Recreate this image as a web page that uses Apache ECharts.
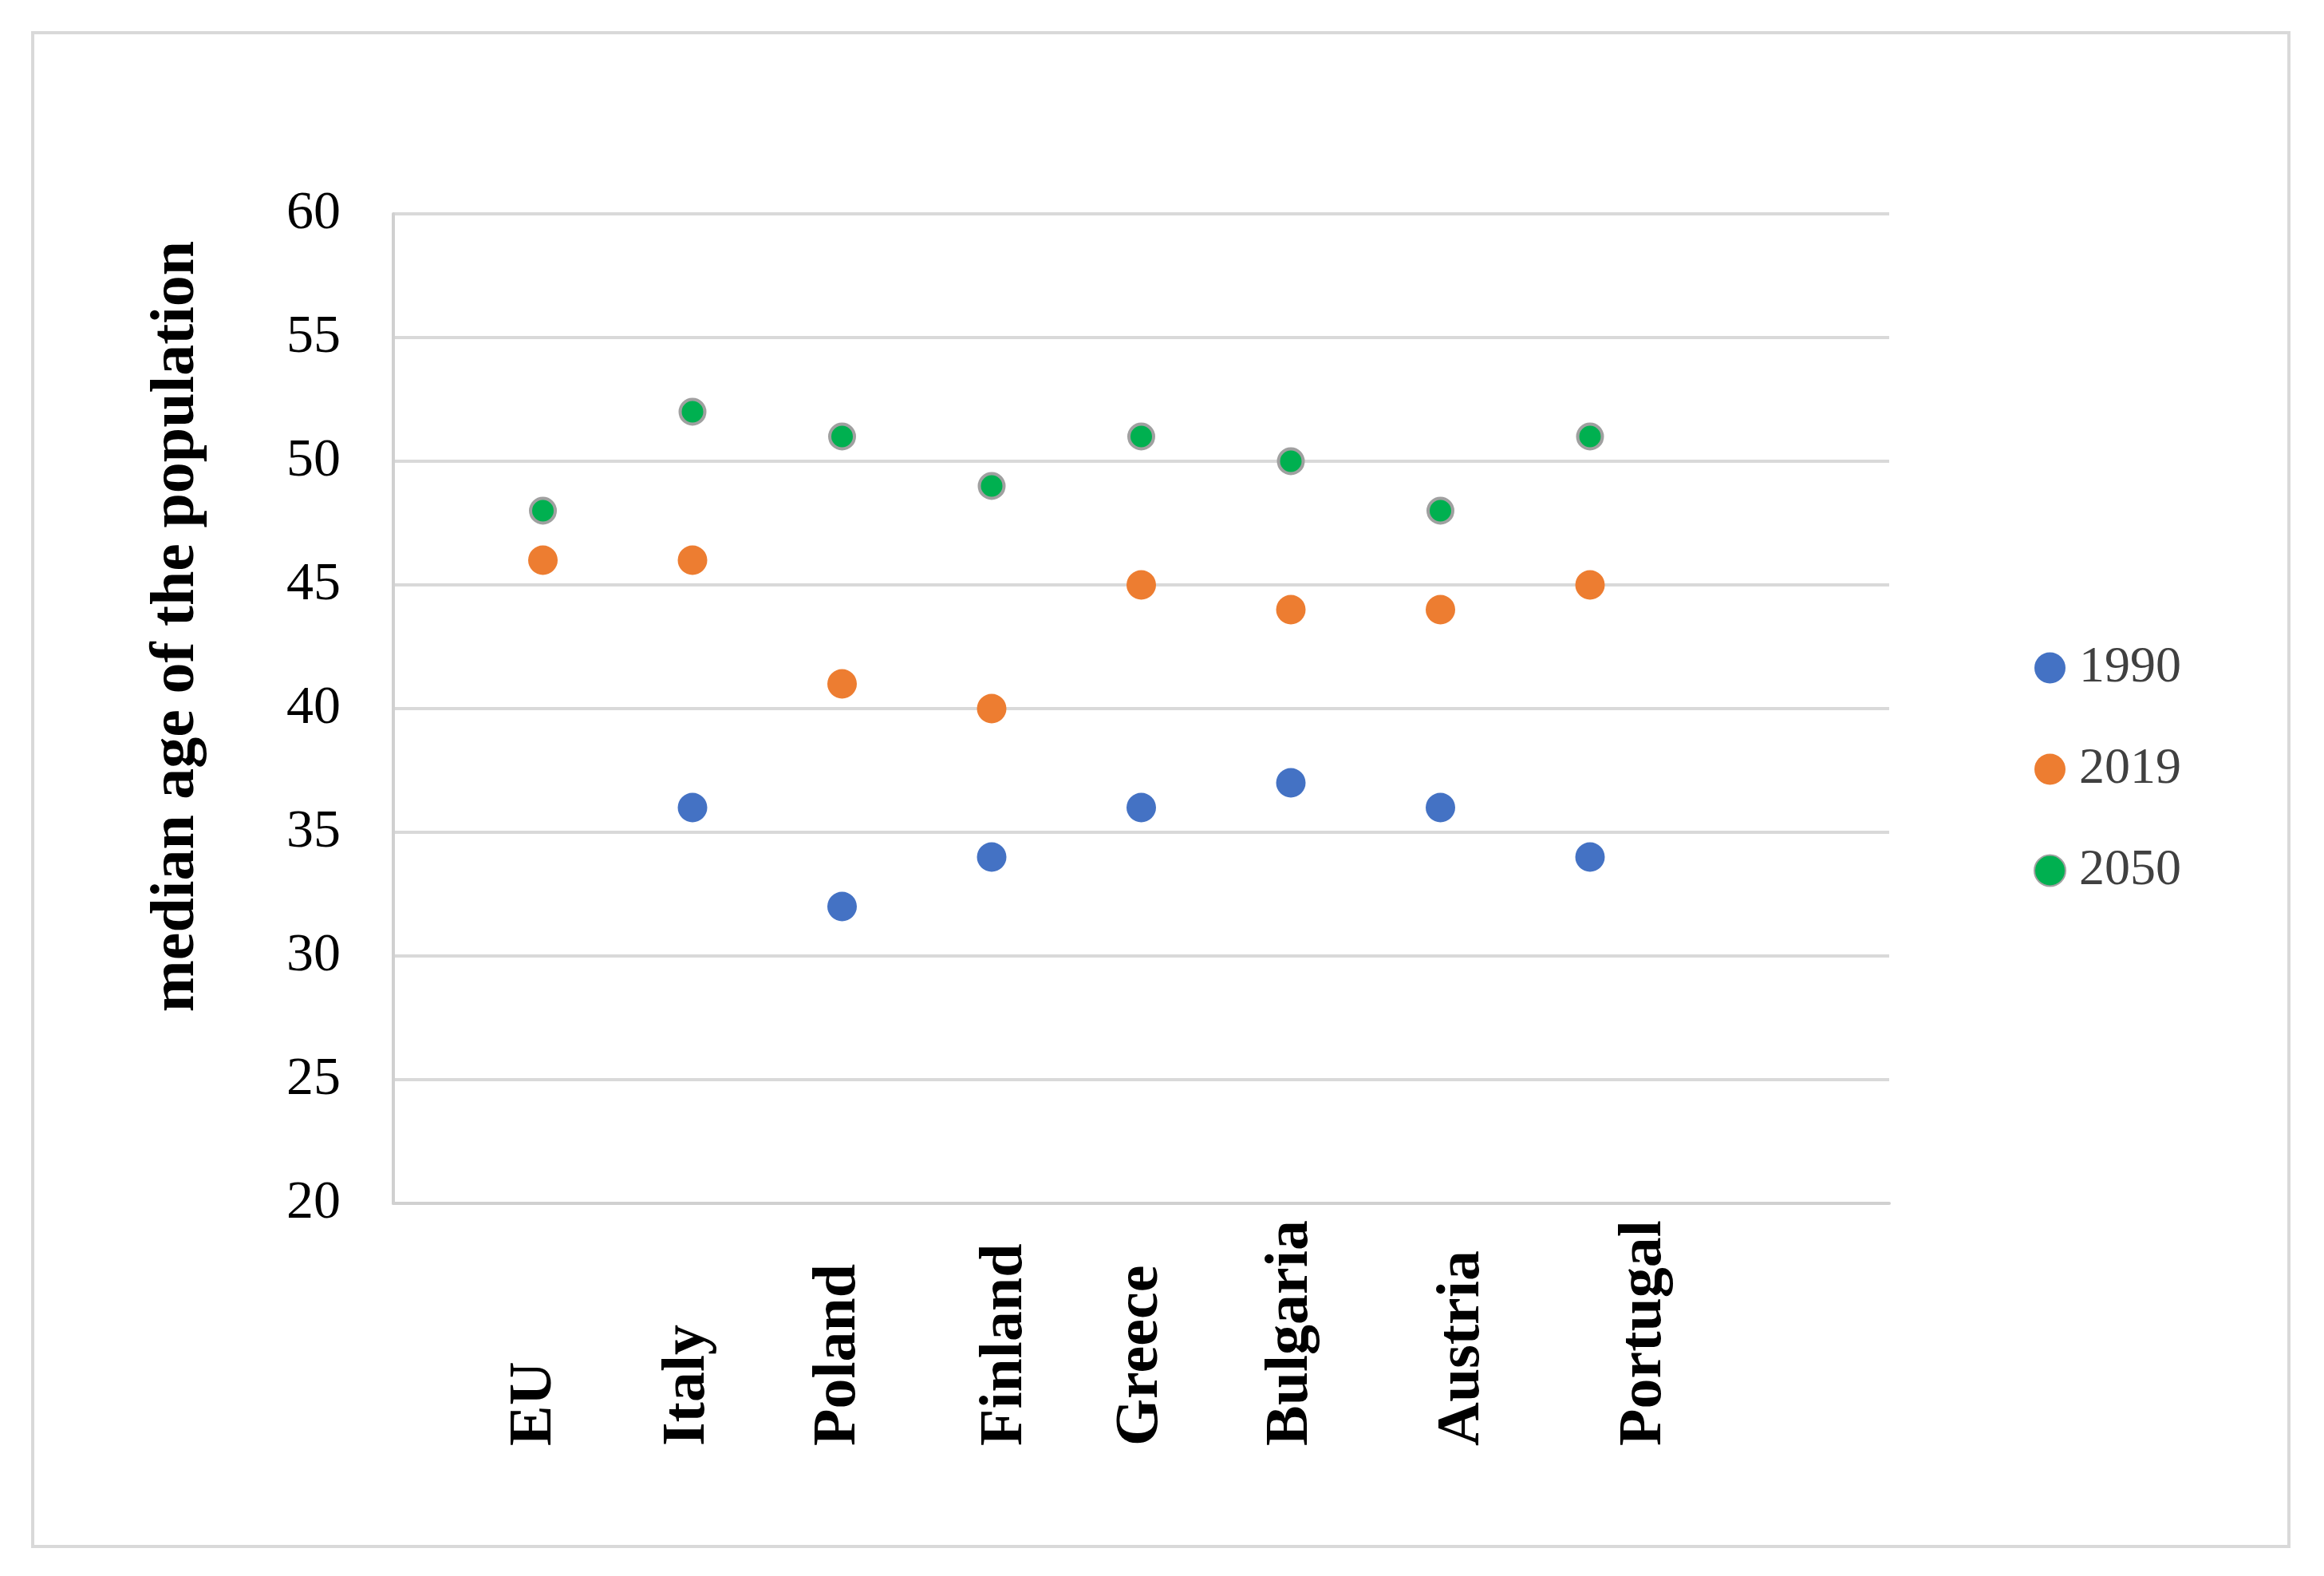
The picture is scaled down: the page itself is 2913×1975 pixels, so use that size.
<!DOCTYPE html>
<html>
<head>
<meta charset="utf-8">
<script src="https://cdn.jsdelivr.net/npm/echarts@6/dist/echarts.min.js"></script>
<style>
    html, body { margin: 0; padding: 0; background: #ffffff; }
    #chart { width: 2913px; height: 1975px; }
</style>
</head>
<body>
<div id="chart"></div>
<script>
var countries = ["EU", "Italy", "Poland", "Finland", "Greece", "Bulgaria", "Austria", "Portugal"];
var years = ["1990", "2019", "2050"];
var age1990 = [null, 36, 32, 34, 36, 37, 36, 34];
var age2019 = [46, 46, 41, 40, 45, 44, 44, 45];
var age2050 = [48, 52, 51, 49, 51, 50, 48, 51];
var yTicks = [20, 25, 30, 35, 40, 45, 50, 55, 60];

// layout only: the labels in the source sit a little off their points
var labelShift = [-10, -6, -4, 17, 0, 0, 28, 68];

var FONT = "'Liberation Serif', 'DejaVu Serif', serif";
var LABEL_BOX = 294;

function labelRich() {
    var rich = {};
    for (var i = 0; i < countries.length; ++i) {
        var d = labelShift[i];
        rich["c" + i] = {
            width: LABEL_BOX,
            align: "left",
            fontFamily: FONT,
            fontWeight: "bold",
            fontSize: 76,
            color: "#000000",
            padding: d >= 0 ? [2 * d, 0, 0, 0] : [0, 0, -2 * d, 0]
        };
    }
    return rich;
}

function toPoints(values) {
    var pts = [];
    for (var i = 0; i < countries.length; ++i) {
        if (values[i] == null) {
            continue;
        }
        pts.push([countries[i], values[i]]);
    }
    return pts;
}

var chart = echarts.init(document.getElementById("chart"), null, { renderer: "canvas" });

var option = {
    backgroundColor: "#ffffff",
    animation: false,
    graphic: [{
        type: "rect",
        shape: { x: 41, y: 41, width: 2828, height: 1897 },
        style: { fill: null, stroke: "#d9d9d9", lineWidth: 4 },
        silent: true
    }],
    legend: {
        orient: "vertical",
        left: 2544,
        top: 800,
        itemWidth: 39,
        itemHeight: 39,
        itemGap: 63,
        icon: "circle",
        data: years,
        textStyle: {
            fontFamily: FONT,
            fontSize: 64,
            color: "#404040",
            padding: [0, 0, 0, 12]
        }
    },
    grid: {
        left: 493,
        right: 545,
        top: 268,
        bottom: 467,
        containLabel: false,
        outerBoundsMode: "none"
    },
    xAxis: {
        type: "category",
        boundaryGap: false,
        data: [""].concat(countries, [" ", "  "]),
        axisLine: { show: true, lineStyle: { color: "#d0d0d0", width: 4 } },
        axisTick: { show: false },
        splitLine: { show: false },
        axisLabel: {
            interval: 0,
            rotate: 90,
            margin: 10,
            fontFamily: FONT,
            fontWeight: "bold",
            fontSize: 76,
            color: "#000000",
            formatter: function (value) {
                var i = countries.indexOf(value);
                if (i < 0) {
                    return "";
                }
                return "{c" + i + "|" + value + "}";
            },
            rich: labelRich()
        }
    },
    yAxis: {
        type: "value",
        min: yTicks[0],
        max: yTicks[yTicks.length - 1],
        interval: 5,
        name: "median age of the population",
        nameLocation: "middle",
        nameGap: 232,
        nameTextStyle: {
            fontFamily: FONT,
            fontWeight: "bold",
            fontSize: 78,
            color: "#000000",
            padding: [0, 0, 0, 206]
        },
        axisLine: { show: true, lineStyle: { color: "#d0d0d0", width: 4 } },
        axisTick: { show: false },
        splitLine: { show: true, lineStyle: { color: "#d9d9d9", width: 4 } },
        axisLabel: {
            margin: 66,
            fontFamily: FONT,
            fontSize: 68,
            color: "#000000"
        }
    },
    series: [
        {
            name: years[0],
            type: "scatter",
            symbolSize: 37,
            itemStyle: { color: "#4472C4", opacity: 1 },
            data: toPoints(age1990)
        },
        {
            name: years[1],
            type: "scatter",
            symbolSize: 37,
            itemStyle: { color: "#ED7D31", opacity: 1 },
            data: toPoints(age2019)
        },
        {
            name: years[2],
            type: "scatter",
            symbolSize: 31,
            itemStyle: { color: "#00B050", borderColor: "#a0a0a0", borderWidth: 4, opacity: 1 },
            data: toPoints(age2050)
        }
    ]
};

chart.setOption(option);
</script>
</body>
</html>
